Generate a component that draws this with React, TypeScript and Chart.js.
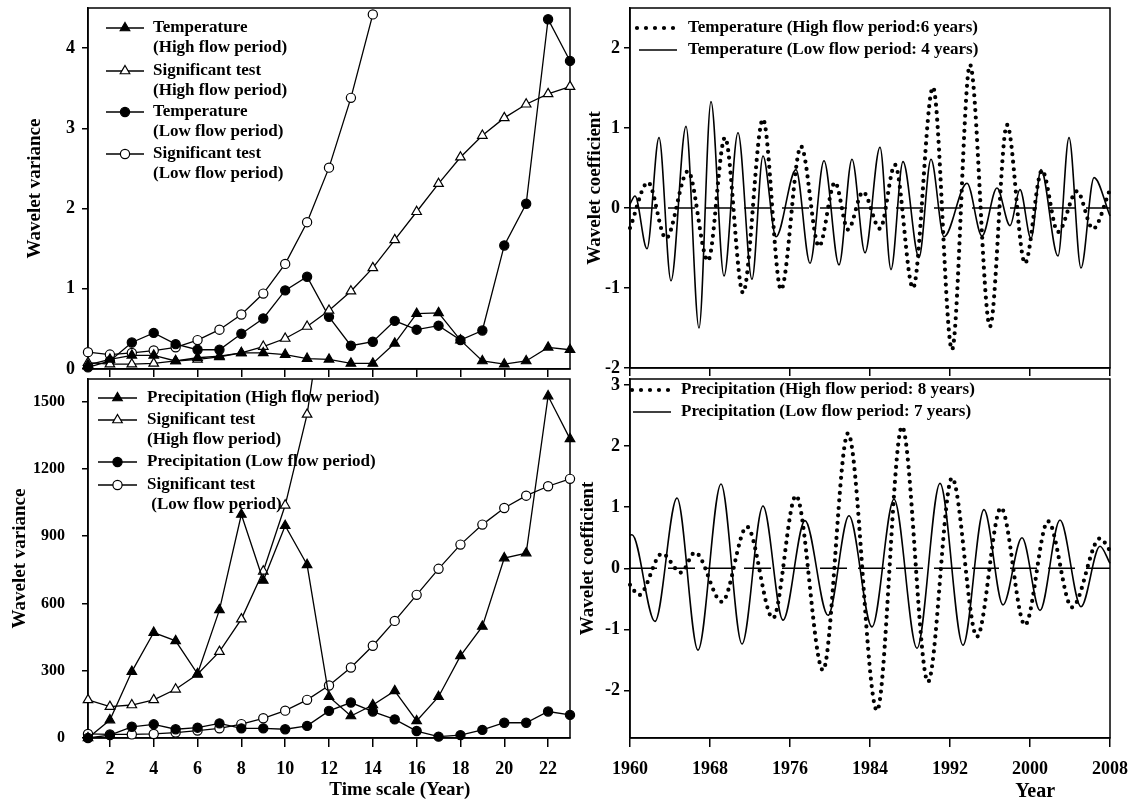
import React, { useEffect, useRef } from 'react';
import { Chart, registerables } from 'chart.js';

Chart.register(...registerables);

const FONT = '"Liberation Serif", "Times New Roman", serif';

// ---------- Left panels: wavelet variance vs time scale ----------
const scaleYears = [1, 2, 3, 4, 5, 6, 7, 8, 9, 10, 11, 12, 13, 14, 15, 16, 17, 18, 19, 20, 21, 22, 23];
const scaleTicks = [2, 4, 6, 8, 10, 12, 14, 16, 18, 20, 22];

const tempHighVar = [0.05, 0.12, 0.17, 0.17, 0.1, 0.14, 0.16, 0.2, 0.2, 0.18, 0.13, 0.12, 0.07, 0.07, 0.32, 0.69, 0.7, 0.36, 0.1, 0.06, 0.1, 0.27, 0.24];
const tempHighSig = [0.08, 0.06, 0.06, 0.07, 0.1, 0.12, 0.15, 0.2, 0.28, 0.38, 0.53, 0.73, 0.97, 1.26, 1.61, 1.96, 2.31, 2.64, 2.91, 3.13, 3.3, 3.43, 3.52];
const tempLowVar = [0.02, 0.1, 0.33, 0.45, 0.31, 0.24, 0.24, 0.44, 0.63, 0.98, 1.15, 0.65, 0.29, 0.34, 0.6, 0.49, 0.54, 0.36, 0.48, 1.54, 2.06, 4.36, 3.84];
const tempLowSig = [0.21, 0.18, 0.2, 0.23, 0.27, 0.36, 0.49, 0.68, 0.94, 1.31, 1.83, 2.51, 3.38, 4.42];
const tempVarTicks = [0, 1, 2, 3, 4];

const precHighVar = [0, 80, 296, 470, 433, 286, 571, 996, 702, 946, 772, 184, 98, 147, 210, 76, 184, 366, 497, 802, 824, 1524, 1333];
const precHighSig = [170, 140, 147, 170, 217, 284, 385, 530, 743, 1037, 1442, 2100];
const precLowVar = [0, 13, 50, 61, 39, 46, 65, 43, 43, 39, 54, 121, 158, 118, 83, 31, 6, 13, 36, 68, 68, 118, 103];
const precLowSig = [18, 16, 16, 18, 24, 33, 43, 62, 88, 122, 170, 234, 314, 411, 522, 638, 754, 862, 951, 1025, 1080, 1122, 1155];
const precVarTicks = [0, 300, 600, 900, 1200, 1500];

// ---------- Right panels: wavelet coefficients vs year ----------
const yearTicks = [1960, 1968, 1976, 1984, 1992, 2000, 2008];
const zeroLineYears = [1960, 2008];
const zeroLineValues = [0, 0];

const tempHighYears = [1960.0, 1961.8, 1963.6, 1965.8, 1967.8, 1969.5, 1971.3, 1973.3, 1975.1, 1977.1, 1978.9, 1980.5, 1981.8, 1983.3, 1985.0, 1986.5, 1988.3, 1990.3, 1992.2, 1994.0, 1996.0, 1997.7, 1999.5, 2001.2, 2002.8, 2004.7, 2006.3, 2008.0];
const tempHighCoef = [-0.25, 0.32, -0.38, 0.46, -0.66, 0.88, -1.06, 1.11, -1.02, 0.77, -0.48, 0.32, -0.27, 0.2, -0.26, 0.54, -1.0, 1.51, -1.77, 1.79, -1.48, 1.04, -0.69, 0.47, -0.3, 0.21, -0.26, 0.23];
const tempLowYears = [1960.0, 1960.5, 1961.7, 1962.9, 1964.1, 1965.6, 1966.9, 1968.1, 1969.4, 1970.8, 1972.2, 1973.3, 1974.6, 1976.6, 1978.0, 1979.4, 1980.9, 1982.2, 1983.5, 1985.0, 1986.1, 1987.3, 1988.9, 1990.1, 1991.4, 1993.7, 1995.2, 1996.7, 1998.0, 1999.0, 2000.1, 2001.1, 2002.8, 2003.9, 2005.1, 2006.4, 2008.0];
const tempLowCoef = [0.05, 0.15, -0.51, 0.88, -0.91, 1.02, -1.5, 1.33, -0.85, 0.94, -0.89, 0.65, -0.36, 0.48, -0.69, 0.59, -0.71, 0.61, -0.56, 0.76, -0.77, 0.58, -0.62, 0.61, -0.36, 0.31, -0.35, 0.25, -0.22, 0.23, -0.38, 0.48, -0.6, 0.88, -0.75, 0.38, -0.1];
const tempCoefTicks = [-2, -1, 0, 1, 2];

const precHighYears = [1960.0, 1960.9, 1963.2, 1965.1, 1966.5, 1969.2, 1971.7, 1974.3, 1976.6, 1979.3, 1981.8, 1984.7, 1987.2, 1989.8, 1992.2, 1994.7, 1997.1, 1999.5, 2001.8, 2004.2, 2007.0, 2008.0];
const precHighCoef = [-0.27, -0.44, 0.24, -0.07, 0.26, -0.55, 0.68, -0.82, 1.19, -1.67, 2.21, -2.33, 2.32, -1.86, 1.48, -1.12, 0.99, -0.93, 0.77, -0.64, 0.49, 0.29];
const precLowYears = [1960.0, 1960.2, 1962.5, 1964.7, 1966.8, 1969.1, 1971.2, 1973.3, 1975.3, 1977.5, 1979.8, 1981.9, 1984.2, 1986.4, 1988.7, 1991.0, 1993.3, 1995.4, 1997.3, 1999.2, 2001.0, 2003.0, 2005.1, 2007.0, 2008.0];
const precLowCoef = [0.54, 0.55, -0.87, 1.15, -1.34, 1.38, -1.24, 1.02, -0.85, 0.78, -0.77, 0.86, -0.96, 1.13, -1.31, 1.39, -1.26, 0.96, -0.6, 0.5, -0.69, 0.79, -0.63, 0.36, 0.08];
const precCoefTicks = [-2, -1, 0, 1, 2, 3];

// ---------- helpers ----------
const zip = (xs: number[], ys: number[]) => ys.map((y, i) => ({ x: xs[i], y }));
const CLIP = { left: false, right: false, bottom: false, top: 0 };

function varDs(label: string, ys: number[], style: 'triangle' | 'circle', filled: boolean) {
  return {
    label,
    data: zip(scaleYears, ys),
    borderColor: '#000',
    borderWidth: 1.3,
    pointStyle: style,
    pointRadius: style === 'triangle' ? 5.5 : 4.6,
    pointBackgroundColor: filled ? '#000' : '#fff',
    pointBorderColor: '#000',
    pointBorderWidth: 1.2,
    tension: 0,
    clip: CLIP,
  };
}

function dottedDs(label: string, xs: number[], ys: number[]) {
  return {
    label,
    data: zip(xs, ys),
    borderColor: '#000',
    borderWidth: 4.2,
    borderDash: [0, 7.5],
    borderCapStyle: 'round',
    pointRadius: 0,
    cubicInterpolationMode: 'monotone',
    clip: CLIP,
  };
}

function solidDs(label: string, xs: number[], ys: number[]) {
  return {
    label,
    data: zip(xs, ys),
    borderColor: '#000',
    borderWidth: 1.6,
    pointRadius: 0,
    cubicInterpolationMode: 'monotone',
    clip: CLIP,
  };
}

function zeroDs() {
  return {
    label: 'zero',
    data: zip(zeroLineYears, zeroLineValues),
    borderColor: '#000',
    borderWidth: 1.5,
    borderDash: [27, 11],
    pointRadius: 0,
  };
}

function noPad(s: any) {
  s.paddingTop = 0;
  s.paddingBottom = 0;
  s.paddingLeft = 0;
  s.paddingRight = 0;
}

function yAxis(min: number, max: number, ticks: number[], title: string, titlePad: number, labelPad: number, width: number, fontSize: number) {
  return {
    type: 'linear',
    min,
    max,
    afterBuildTicks: (s: any) => {
      s.ticks = ticks.map((v) => ({ value: v }));
    },
    afterFit: (s: any) => {
      s.width = width;
      noPad(s);
    },
    grid: { display: true, drawOnChartArea: false, drawTicks: true, tickLength: 6, color: '#000', lineWidth: 1.5 },
    border: { display: true, color: '#000', width: 1.5 },
    ticks: {
      color: '#000',
      padding: labelPad,
      font: { family: FONT, size: fontSize, weight: 'bold' },
      callback: (v: any) => String(v),
    },
    title: {
      display: true,
      text: title,
      color: '#000',
      font: { family: FONT, size: 19, weight: 'bold' },
      padding: { top: titlePad, bottom: 0 },
    },
  };
}

function xAxis(min: number, max: number, ticks: number[], showLabels: boolean, height: number, tickLen: number) {
  return {
    type: 'linear',
    min,
    max,
    afterBuildTicks: (s: any) => {
      s.ticks = ticks.map((v) => ({ value: v }));
    },
    afterFit: (s: any) => {
      s.height = height;
      noPad(s);
    },
    grid: { display: true, drawOnChartArea: false, drawTicks: true, tickLength: tickLen, color: '#000', lineWidth: 1.5 },
    border: { display: true, color: '#000', width: 1.5 },
    ticks: {
      display: showLabels,
      color: '#000',
      padding: 12,
      maxRotation: 0,
      autoSkip: false,
      font: { family: FONT, size: 18, weight: 'bold' },
      callback: (v: any) => String(v),
    },
  };
}

const framePlugin = {
  id: 'frame',
  beforeDatasetsDraw(chart: any) {
    const { ctx, chartArea: a } = chart;
    ctx.save();
    ctx.strokeStyle = '#000';
    ctx.lineWidth = 1.5;
    ctx.strokeRect(a.left, a.top, a.right - a.left, a.bottom - a.top);
    ctx.restore();
  },
};

function xTitlePlugin(text: string, frac: number, y: number, size: number) {
  return {
    id: 'xTitle',
    afterDraw(chart: any) {
      const { ctx, chartArea: a } = chart;
      ctx.save();
      ctx.font = `bold ${size}px ${FONT}`;
      ctx.fillStyle = '#000';
      ctx.textAlign = 'center';
      ctx.textBaseline = 'middle';
      ctx.fillText(text, a.left + frac * (a.right - a.left), y);
      ctx.restore();
    },
  };
}

function drawMarker(ctx: CanvasRenderingContext2D, style: string, x: number, y: number, r: number, fill: string, bw: number) {
  ctx.save();
  ctx.beginPath();
  if (style === 'triangle') {
    let rad = 0;
    ctx.moveTo(x + Math.sin(rad) * r, y - Math.cos(rad) * r);
    rad += (2 * Math.PI) / 3;
    ctx.lineTo(x + Math.sin(rad) * r, y - Math.cos(rad) * r);
    rad += (2 * Math.PI) / 3;
    ctx.lineTo(x + Math.sin(rad) * r, y - Math.cos(rad) * r);
    ctx.closePath();
  } else {
    ctx.arc(x, y, r, 0, Math.PI * 2);
  }
  ctx.fillStyle = fill;
  ctx.fill();
  ctx.strokeStyle = '#000';
  ctx.lineWidth = bw;
  ctx.stroke();
  ctx.restore();
}

type LegendEntry = { ds: number; y: number; x0: number; x1: number; lines: string[]; dash?: number[] };

function legendPlugin(textX: number, lineGap: number, entries: LegendEntry[]) {
  return {
    id: 'panelLegend',
    afterDatasetsDraw(chart: any) {
      const ctx: CanvasRenderingContext2D = chart.ctx;
      entries.forEach((e) => {
        const ds: any = chart.data.datasets[e.ds];
        ctx.save();
        ctx.strokeStyle = '#000';
        ctx.lineWidth = ds.borderWidth;
        ctx.lineCap = ds.borderCapStyle || 'butt';
        ctx.setLineDash(e.dash || ds.borderDash || []);
        ctx.beginPath();
        ctx.moveTo(e.x0, e.y);
        ctx.lineTo(e.x1, e.y);
        ctx.stroke();
        ctx.restore();
        if (ds.pointRadius > 0) {
          drawMarker(ctx, ds.pointStyle, (e.x0 + e.x1) / 2, e.y, ds.pointRadius, ds.pointBackgroundColor, ds.pointBorderWidth);
        }
        ctx.save();
        ctx.font = `bold 17px ${FONT}`;
        ctx.fillStyle = '#000';
        ctx.textAlign = 'left';
        ctx.textBaseline = 'middle';
        e.lines.forEach((t, i) => ctx.fillText(t, textX, e.y + i * lineGap));
        ctx.restore();
      });
    },
  };
}

function baseOptions(padding: any, scales: any) {
  return {
    responsive: false,
    animation: false,
    devicePixelRatio: 1,
    layout: { padding },
    plugins: { legend: { display: false }, tooltip: { enabled: false } },
    scales,
    elements: { line: { fill: false } },
  };
}

// ---------- chart configs ----------
function topLeftConfig(): any {
  return {
    type: 'line',
    data: {
      datasets: [
        varDs('Temperature (High flow period)', tempHighVar, 'triangle', true),
        varDs('Significant test (High flow period)', tempHighSig, 'triangle', false),
        varDs('Temperature (Low flow period)', tempLowVar, 'circle', true),
        varDs('Significant test (Low flow period)', tempLowSig, 'circle', false),
      ],
    },
    options: baseOptions({ left: 0, right: 10, top: 8, bottom: 0 }, {
      x: xAxis(1, 23, scaleTicks, false, 11, 8),
      y: yAxis(0, 4.5, tempVarTicks, 'Wavelet variance', 23.6, 7, 88, 18),
    }),
    plugins: [
      framePlugin,
      legendPlugin(153, 20, [
        { ds: 0, y: 28, x0: 106, x1: 144, lines: ['Temperature', '(High flow period)'] },
        { ds: 1, y: 71, x0: 106, x1: 144, lines: ['Significant test', '(High flow period)'] },
        { ds: 2, y: 112, x0: 106, x1: 144, lines: ['Temperature', '(Low flow period)'] },
        { ds: 3, y: 154, x0: 106, x1: 144, lines: ['Significant test', '(Low flow period)'] },
      ]),
    ],
  };
}

function bottomLeftConfig(): any {
  return {
    type: 'line',
    data: {
      datasets: [
        varDs('Precipitation (High flow period)', precHighVar, 'triangle', true),
        varDs('Significant test (High flow period)', precHighSig, 'triangle', false),
        varDs('Precipitation (Low flow period)', precLowVar, 'circle', true),
        varDs('Significant test (Low flow period)', precLowSig, 'circle', false),
      ],
    },
    options: baseOptions({ left: 0, right: 10, top: 7, bottom: 0 }, {
      x: xAxis(1, 23, scaleTicks, true, 64, 9),
      y: yAxis(0, 1600, precVarTicks, 'Wavelet variance', 8.6, 17, 88, 16),
    }),
    plugins: [
      framePlugin,
      xTitlePlugin('Time scale (Year)', 0.647, 418, 19),
      legendPlugin(147, 20, [
        { ds: 0, y: 26, x0: 98, x1: 137, lines: ['Precipitation (High flow period)'] },
        { ds: 1, y: 48, x0: 98, x1: 137, lines: ['Significant test', '(High flow period)'] },
        { ds: 2, y: 90, x0: 98, x1: 137, lines: ['Precipitation (Low flow period)'] },
        { ds: 3, y: 113, x0: 98, x1: 137, lines: ['Significant test', ' (Low flow period)'] },
      ]),
    ],
  };
}

function topRightConfig(): any {
  return {
    type: 'line',
    data: {
      datasets: [
        dottedDs('Temperature (High flow period:6 years)', tempHighYears, tempHighCoef),
        solidDs('Temperature (Low flow period: 4 years)', tempLowYears, tempLowCoef),
        zeroDs(),
      ],
    },
    options: baseOptions({ left: 0, right: 23, top: 8, bottom: 0 }, {
      x: xAxis(1960, 2008, yearTicks, false, 12, 8),
      y: yAxis(-2, 2.5, tempCoefTicks, 'Wavelet coefficient', 28.6, 4, 75, 18),
    }),
    plugins: [
      framePlugin,
      legendPlugin(133, 22, [
        { ds: 0, y: 28, x0: 82, x1: 119.5, dash: [0, 9], lines: ['Temperature (High flow period:6 years)'] },
        { ds: 1, y: 50, x0: 84, x1: 122, lines: ['Temperature (Low flow period: 4 years)'] },
      ]),
    ],
  };
}

function bottomRightConfig(): any {
  return {
    type: 'line',
    data: {
      datasets: [
        dottedDs('Precipitation (High flow period: 8 years)', precHighYears, precHighCoef),
        solidDs('Precipitation (Low flow period: 7 years)', precLowYears, precLowCoef),
        zeroDs(),
      ],
    },
    options: baseOptions({ left: 0, right: 23, top: 7, bottom: 0 }, {
      x: xAxis(1960, 2008, yearTicks, true, 64, 9),
      y: yAxis(-2.78, 3.1, precCoefTicks, 'Wavelet coefficient', 21.6, 4, 75, 18),
    }),
    plugins: [
      framePlugin,
      xTitlePlugin('Year', 0.844, 420, 20),
      legendPlugin(126, 22, [
        { ds: 0, y: 18, x0: 77, x1: 114.5, dash: [0, 9], lines: ['Precipitation (High flow period: 8 years)'] },
        { ds: 1, y: 40, x0: 78, x1: 116, lines: ['Precipitation (Low flow period: 7 years)'] },
      ]),
    ],
  };
}

function Panel(props: { left: number; top: number; width: number; height: number; build: () => any }) {
  const ref = useRef<HTMLCanvasElement>(null);
  useEffect(() => {
    const chart = new Chart(ref.current as HTMLCanvasElement, props.build());
    return () => chart.destroy();
  }, []);
  return (
    <canvas
      ref={ref}
      width={props.width}
      height={props.height}
      style={{ position: 'absolute', left: props.left, top: props.top, width: props.width, height: props.height }}
    />
  );
}

export default function App() {
  return (
    <div style={{ position: 'absolute', left: 0, top: 0, width: 1133, height: 802, background: '#fff', overflow: 'hidden' }}>
      <Panel left={0} top={0} width={580} height={380} build={topLeftConfig} />
      <Panel left={0} top={372} width={580} height={430} build={bottomLeftConfig} />
      <Panel left={555} top={0} width={578} height={380} build={topRightConfig} />
      <Panel left={555} top={372} width={578} height={430} build={bottomRightConfig} />
    </div>
  );
}
